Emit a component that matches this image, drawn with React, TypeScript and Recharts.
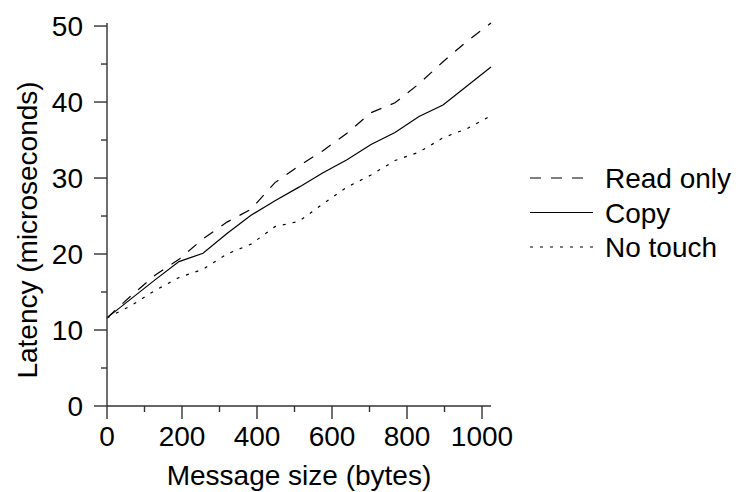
import React from 'react';
import { LineChart, Line, XAxis, YAxis, Legend, Label } from 'recharts';

// message sizes in bytes
const sizes = [0, 64, 128, 192, 256, 320, 384, 448, 512, 576, 640, 704, 768, 832, 896, 960, 1024];

// latency in microseconds
const readOnly = [11.6, 14.5, 17.2, 19.3, 22.0, 24.2, 25.9, 29.4, 31.6, 33.6, 35.9, 38.6, 39.9, 42.4, 45.3, 48.0, 50.4];
const copy = [11.6, 14.1, 16.6, 19.0, 20.1, 22.7, 25.1, 27.0, 28.8, 30.7, 32.4, 34.4, 36.0, 38.1, 39.6, 42.1, 44.6];
const noTouch = [11.6, 13.2, 15.2, 16.9, 18.0, 20.0, 21.3, 23.6, 24.3, 26.6, 28.8, 30.4, 32.3, 33.4, 35.3, 36.5, 38.2];

const xTicks = [0, 100, 200, 300, 400, 500, 600, 700, 800, 900, 1000];
const yTicks = [0, 5, 10, 15, 20, 25, 30, 35, 40, 45, 50];

const seriesNames = ['Read only', 'Copy', 'No touch'];
const seriesKeys = ['readOnly', 'copy', 'noTouch'];
const seriesDash = ['11 10', undefined, '3 7'];

const data = sizes.map((s, i) => ({
  size: s,
  readOnly: readOnly[i],
  copy: copy[i],
  noTouch: noTouch[i],
}));

const FONT = '"Liberation Sans", Arial, Helvetica, sans-serif';
const AXIS = '#333';

const XTick = (props: any) => {
  const { x, y, payload } = props;
  const major = payload.value % 200 === 0;
  return (
    <g>
      <line x1={x} y1={y} x2={x} y2={y + (major ? 13 : 6)} stroke={AXIS} strokeWidth={1.4} />
      {major && (
        <text x={x} y={y + 40} textAnchor="middle" fontSize={28} fontFamily={FONT} fill="#000">
          {payload.value}
        </text>
      )}
    </g>
  );
};

const YTick = (props: any) => {
  const { x, y, payload } = props;
  const major = payload.value % 10 === 0;
  return (
    <g>
      <line x1={x - (major ? 13 : 6)} y1={y} x2={x} y2={y} stroke={AXIS} strokeWidth={1.4} />
      {major && (
        <text x={x - 24} y={y + 10} textAnchor="end" fontSize={28} fontFamily={FONT} fill="#000">
          {payload.value}
        </text>
      )}
    </g>
  );
};

const LegendBox = () => (
  <svg width={213} height={110}>
    {seriesNames.map((name, i) => {
      const cy = 20 + i * 34.5;
      return (
        <g key={name}>
          <line x1={4} y1={cy} x2={67} y2={cy} stroke="#000" strokeWidth={1.2} strokeDasharray={seriesDash[i]} />
          <text x={79} y={cy + 10} fontSize={28} fontFamily={FONT} fill="#000">
            {name}
          </text>
        </g>
      );
    })}
  </svg>
);

export default function App() {
  return (
    <div style={{ position: 'absolute', left: 0, top: 0, width: 739, height: 492, background: '#fff' }}>
      <LineChart width={739} height={492} data={data} margin={{ top: 23, right: 248, bottom: 0, left: 0 }}>
        <XAxis
          type="number"
          dataKey="size"
          domain={[0, 1024]}
          ticks={xTicks}
          interval={0}
          tickSize={0}
          tickMargin={0}
          tickLine={false}
          tick={<XTick />}
          height={86}
          axisLine={{ stroke: AXIS, strokeWidth: 1.4 }}
        >
          <Label
            content={(p: any) => {
              const vb = p.viewBox;
              return (
                <text x={vb.x + vb.width / 2} y={vb.y + 79} textAnchor="middle" fontSize={28} fontFamily={FONT} fill="#000">
                  Message size (bytes)
                </text>
              );
            }}
          />
        </XAxis>
        <YAxis
          type="number"
          domain={[0, 50]}
          ticks={yTicks}
          interval={0}
          tickSize={0}
          tickMargin={0}
          tickLine={false}
          tick={<YTick />}
          width={107}
          axisLine={{ stroke: AXIS, strokeWidth: 1.4 }}
        >
          <Label
            content={(p: any) => {
              const vb = p.viewBox;
              const cx = vb.x + 37;
              const cy = vb.y + 207;
              return (
                <text x={cx} y={cy} transform={`rotate(-90, ${cx}, ${cy})`} textAnchor="middle" fontSize={28} fontFamily={FONT} fill="#000">
                  Latency (microseconds)
                </text>
              );
            }}
          />
        </YAxis>
        <Legend
          layout="vertical"
          align="center"
          verticalAlign="middle"
          wrapperStyle={{ left: 526, top: 158, width: 213 }}
          content={<LegendBox />}
        />
        {seriesKeys.map((k, i) => (
          <Line
            key={k}
            name={seriesNames[i]}
            type="linear"
            dataKey={k}
            stroke="#000"
            strokeWidth={1.2}
            strokeDasharray={seriesDash[i]}
            dot={false}
            activeDot={false}
            isAnimationActive={false}
          />
        ))}
      </LineChart>
    </div>
  );
}
